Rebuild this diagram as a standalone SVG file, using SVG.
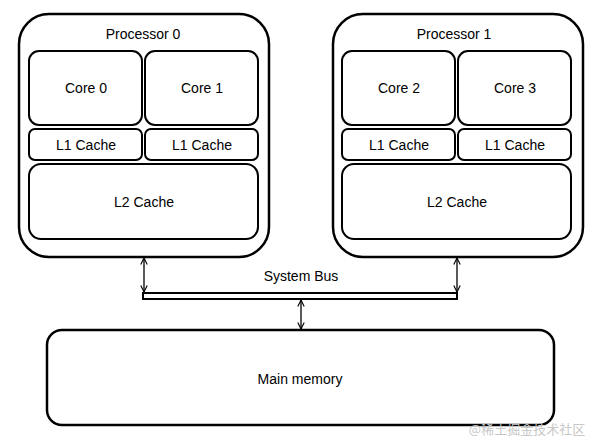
<svg xmlns="http://www.w3.org/2000/svg" width="596" height="447" viewBox="0 0 596 447">
<style>
.box{fill:#fff;stroke:#000;stroke-width:2}
.outer{fill:#fff;stroke:#000;stroke-width:2.5}
.t{font-family:"Liberation Sans",Arial,sans-serif;font-size:14px;fill:#000;text-anchor:middle;dominant-baseline:central}
.c{stroke:#000;stroke-width:1.3;fill:none}
</style>
<defs>
<marker id="ah" viewBox="0 0 10 10" refX="9" refY="5" markerWidth="8" markerHeight="8" orient="auto-start-reverse" markerUnits="userSpaceOnUse">
<path d="M1,1 L9,5 L1,9" fill="none" stroke="#000" stroke-width="1.4"/>
</marker>
</defs>
<rect width="596" height="447" fill="#fff"/>
<g id="processor0">
<rect class="outer" x="19" y="14" width="250" height="243" rx="30"/>
<text class="t" x="143" y="34">Processor 0</text>
</g>
<g id="core0"><rect class="box" x="29" y="51" width="113" height="74" rx="10"/><text class="t" x="86" y="88">Core 0</text></g>
<g id="core1"><rect class="box" x="145" y="51" width="113" height="74" rx="10"/><text class="t" x="202" y="88">Core 1</text></g>
<g id="l1a"><rect class="box" x="29" y="129" width="113" height="31" rx="6"/><text class="t" x="86" y="145">L1 Cache</text></g>
<g id="l1b"><rect class="box" x="145" y="129" width="113" height="31" rx="6"/><text class="t" x="202" y="145">L1 Cache</text></g>
<g id="l2a"><rect class="box" x="29" y="164" width="229" height="75" rx="12"/><text class="t" x="144" y="202">L2 Cache</text></g>
<g id="processor1">
<rect class="outer" x="333" y="14" width="250" height="243" rx="30"/>
<text class="t" x="454" y="34">Processor 1</text>
</g>
<g id="core2"><rect class="box" x="342" y="51" width="113" height="74" rx="10"/><text class="t" x="399" y="88">Core 2</text></g>
<g id="core3"><rect class="box" x="458" y="51" width="113" height="74" rx="10"/><text class="t" x="515" y="88">Core 3</text></g>
<g id="l1c"><rect class="box" x="342" y="129" width="113" height="31" rx="6"/><text class="t" x="399" y="145">L1 Cache</text></g>
<g id="l1d"><rect class="box" x="458" y="129" width="113" height="31" rx="6"/><text class="t" x="515" y="145">L1 Cache</text></g>
<g id="l2b"><rect class="box" x="342" y="164" width="229" height="75" rx="12"/><text class="t" x="457" y="202">L2 Cache</text></g>
<g id="bus">
<rect x="143" y="293" width="314" height="6" fill="#fff" stroke="#000" stroke-width="2"/>
<text class="t" x="301" y="276">System Bus</text>
</g>
<g id="mainmemory"><rect class="outer" x="47" y="330" width="507" height="95" rx="15"/><text class="t" x="300" y="379">Main memory</text></g>
<g id="connectors">
<line class="c" x1="144" y1="258" x2="144" y2="292" marker-start="url(#ah)" marker-end="url(#ah)"/>
<line class="c" x1="457" y1="258" x2="457" y2="292" marker-start="url(#ah)" marker-end="url(#ah)"/>
<line class="c" x1="301" y1="300" x2="301" y2="329" marker-start="url(#ah)" marker-end="url(#ah)"/>
</g>
<text x="527" y="428" font-family="'Noto Sans CJK SC',sans-serif" font-size="13" fill="#c8c8c8" text-anchor="middle" dominant-baseline="central">@稀土掘金技术社区</text>
</svg>
